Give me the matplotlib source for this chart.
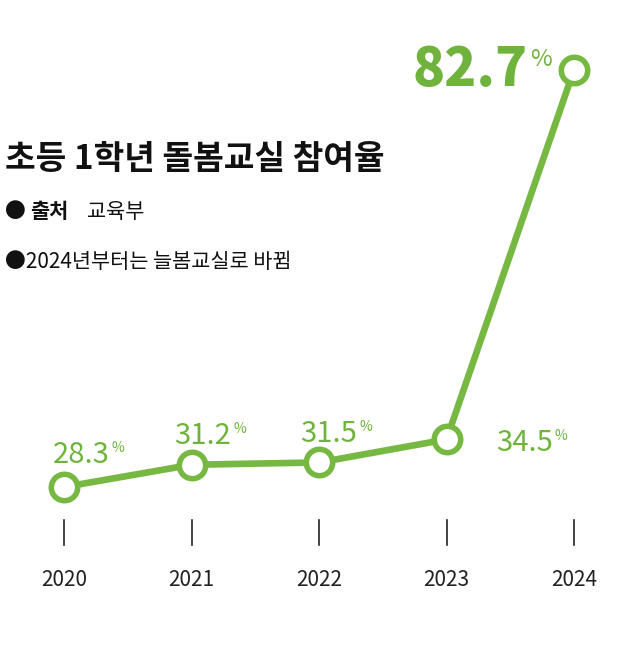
import matplotlib
matplotlib.use("Agg")
import matplotlib.pyplot as plt
from matplotlib import transforms, font_manager

years = [2020, 2021, 2022, 2023, 2024]
values = [28.3, 31.2, 31.5, 34.5, 82.7]
labels = ["28.3", "31.2", "31.5", "34.5", "82.7"]
offsets = [(46, 24), (40, 21), (38, 20), (106, -12), (-46, -16)]

GREEN = "#77b843"
LGREEN = "#6fb33c"
names = {f.name for f in font_manager.fontManager.ttflist}
cands = [n for n in ["Noto Sans CJK KR", "Noto Sans CJK JP", "Noto Sans CJK SC",
                     "Noto Sans CJK TC", "Noto Sans KR"] if n in names]
plt.rcParams["font.family"] = cands + ["DejaVu Sans"]

fig = plt.figure(figsize=(6.4, 6.46), dpi=100)
ax = fig.add_axes([0, 0, 1, 1])
ax.set_xlim(2020 - 64 / 127.5, 2020 + (640 - 64) / 127.5)
ax.set_ylim(28.3 - (646 - 487) / 7.67, 28.3 + 487 / 7.67)
ax.axis("off")

ax.plot(years, values, color=GREEN, lw=4.8, solid_capstyle="round", zorder=2)
ax.plot(years, values, "o", ms=19, mfc="white", mec=GREEN, mew=4, zorder=3)

px = 72 / 100
for i, (x, v, lab) in enumerate(zip(years, values, labels)):
    dx, dy = offsets[i]
    big = i == 4
    fs = 38 if big else 21
    ax.annotate(lab, (x, v), xytext=(dx * px, dy * px), textcoords="offset points",
                ha="right", va="baseline", fontsize=fs, color=LGREEN,
                fontweight="black" if big else "normal", zorder=4)
    ax.annotate("%", (x, v), xytext=((dx + 2) * px, (dy + (20 if big else 11)) * px),
                textcoords="offset points", ha="left", va="baseline",
                fontsize=17 if big else 10, color=LGREEN, zorder=4)

trans = transforms.blended_transform_factory(ax.transData, ax.transAxes)
for x in years:
    ax.plot([x, x], [1 - 520 / 646, 1 - 545 / 646], color="#222222", lw=1.2, transform=trans)
    ax.text(x, 1 - 580 / 646, str(x), transform=trans, ha="center", va="center",
            fontsize=15, color="#222222")

ax.text(5 / 640, 1 - 160 / 646, "초등 1학년 돌봄교실 참여율", transform=ax.transAxes,
        fontsize=24, fontweight="bold", va="center", ha="left", color="#111111")
ax.text(5 / 640, 1 - 212 / 646, "●", transform=ax.transAxes, fontsize=15, va="center", color="#111111")
ax.text(30 / 640, 1 - 212 / 646, "출처", transform=ax.transAxes, fontsize=15, fontweight="bold",
        va="center", color="#111111")
ax.text(87 / 640, 1 - 212 / 646, "교육부", transform=ax.transAxes, fontsize=15, va="center", color="#111111")
ax.text(5 / 640, 1 - 262 / 646, "●2024년부터는 늘봄교실로 바뀜", transform=ax.transAxes,
        fontsize=15, va="center", color="#111111")

fig.savefig("out.png", dpi=100)
